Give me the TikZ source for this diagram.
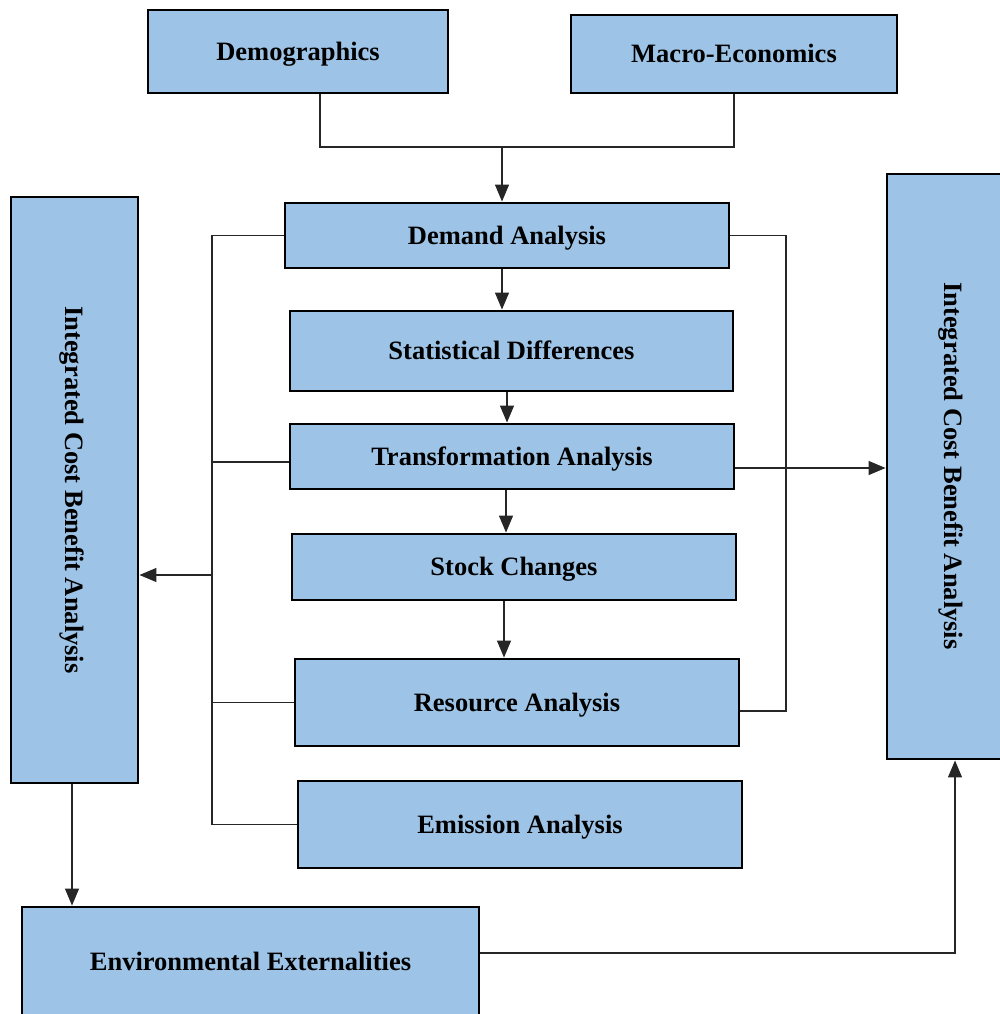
\documentclass[tikz,border=0pt]{standalone}
\usepackage{fontspec}
\setmainfont{Liberation Serif}
\usetikzlibrary{arrows.meta}
\definecolor{boxblue}{RGB}{157,195,230}
\tikzset{
  label font/.style={font=\fontsize{26.5}{30}\selectfont\bfseries, text height=17.4pt, text depth=0pt},
  block/.style={draw=black, line width=2.9pt, fill=boxblue, inner sep=0pt, label font},
  link/.style={draw=black!85, line width=1.3pt},
  flow/.style={link, -{Triangle[length=17pt,width=14pt]}}
}
\newcommand{\boxat}[6]{% name, x1, y1, x2, y2, text
  \node[block, minimum width=#4-#2, minimum height=#5-#3] (#1) at ({(#2+#4)/2},{(#3+#5)/2}) {#6};}
\begin{document}
\begin{tikzpicture}[x=1pt,y=-1pt]
\useasboundingbox (0,0) rectangle (1000,1014);
\begin{scope}
\clip (0,0) rectangle (1000,1014);
% inputs
\boxat{demo}{148}{10}{448}{93}{Demographics}
\boxat{macro}{571}{15}{897}{93}{Macro-Economics}
% main chain
\boxat{demand}{285}{203}{729}{268}{Demand Analysis}
\boxat{stat}{290}{311}{733}{391}{Statistical Differences}
\boxat{trans}{290}{424}{734}{489}{Transformation Analysis}
\boxat{stock}{292}{534}{736}{600}{Stock Changes}
\boxat{res}{295}{659}{739}{746}{Resource Analysis}
\boxat{emis}{298}{781}{742}{868}{Emission Analysis}
% side boxes
\boxat{icbaL}{11}{197}{138}{783}{}
\node[label font, rotate=-90] at (icbaL.center) {Integrated Cost Benefit Analysis};
\boxat{icbaR}{887}{174}{1003}{759}{}
\node[label font, rotate=-90] at (953,466) {Integrated Cost Benefit Analysis};
\boxat{env}{22}{907}{479}{1030}{}
\node[label font] at (250.5,962) {Environmental Externalities};
\end{scope}
% junction points
\coordinate (merge) at (502,147);
\coordinate (lbus) at (212,575);
\coordinate (rbus) at (786,468);
% inputs merge into demand
\draw[link] (demo.south -| 320,0) |- (merge) -| (macro.south -| 734,0);
\draw[flow] (merge) -- (demand.north -| merge);
% chain arrows
\draw[flow] (demand.south -| 502,0) -- (stat.north -| 502,0);
\draw[flow] (stat.south -| 507,0) -- (trans.north -| 507,0);
\draw[flow] (trans.south -| 506,0) -- (stock.north -| 506,0);
\draw[flow] (stock.south -| 504,0) -- (res.north -| 504,0);
% left collector
\draw[link] (demand.west) -| (lbus |- emis.west) -- (emis.west);
\draw[link] (trans.west |- 0,462) -- (212,462);
\draw[link] (res.west) -- (lbus |- res.west);
\draw[flow] (lbus) -- (icbaL.east |- lbus);
% right collector
\draw[link] (demand.east) -| (786,711) -- (res.east |- 0,711);
\draw[flow] (trans.east |- rbus) -- (icbaR.west |- rbus);
% externalities loop
\draw[flow] (icbaL.south -| 72,0) -- (env.north -| 72,0);
\draw[flow] (env.east |- 0,953) -| (icbaR.south -| 955,0);
\end{tikzpicture}
\end{document}
